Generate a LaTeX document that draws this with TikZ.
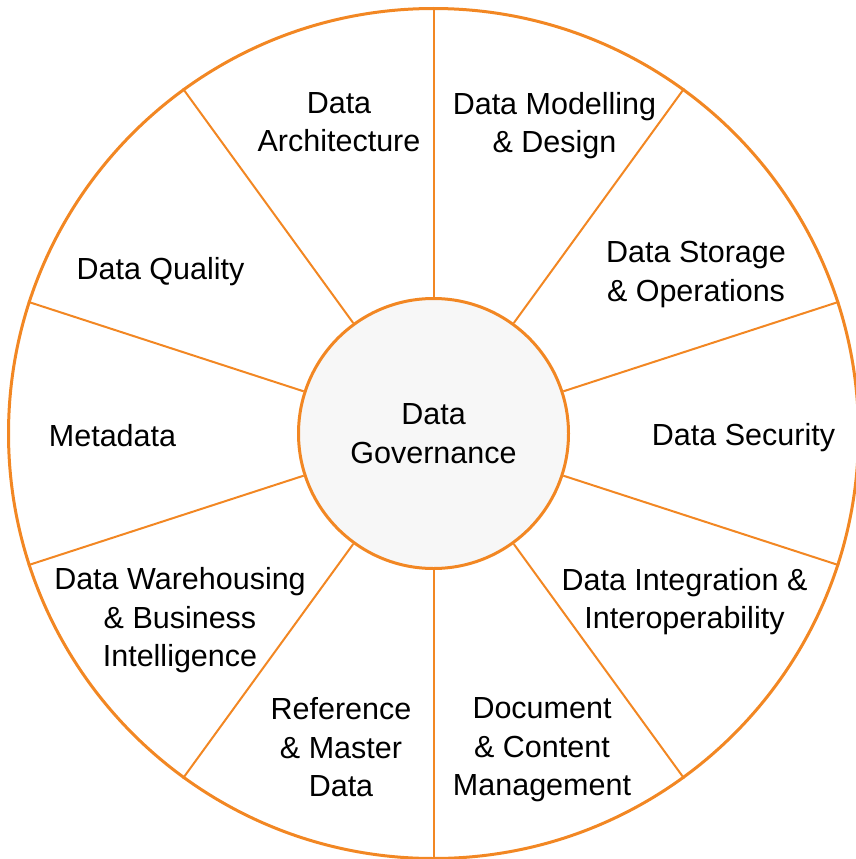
\documentclass[tikz,border=0pt]{standalone}
\usepackage{fontspec}
\setmainfont{Liberation Sans}
\definecolor{wheel}{RGB}{242,135,35}
\definecolor{hub}{RGB}{247,247,247}
\begin{document}
\begin{tikzpicture}[x=1pt,y=-1pt,
  lab/.style={font=\fontsize{30.5}{38.5}\selectfont, align=center, text=black, inner sep=0pt},
  rim/.style={circle, draw=wheel, line width=3pt, inner sep=0pt},
  spoke/.style={draw=wheel, line width=2pt}]
\useasboundingbox (0,0) rectangle (856,859);
\node[rim, minimum size=850pt] (outer) at (433.5,433.5) {};
\node[rim, fill=hub, minimum size=270pt, lab] (core) at (433.5,433.5) {Data\\Governance};
\foreach \a in {90,54,18,-18,-54,-90,-126,-162,162,126}
  \draw[spoke] (core.\a) -- (outer.\a);
\node[lab] (arch) at (339,122.3) {Data\\Architecture};
\node[lab] (model) at (554.5,125.4) {Data Modelling\\\& Design};
\node[lab] (store) at (696,274.4) {Data Storage\\\& Operations};
\node[lab] (qual) at (160.5,271.4) {Data Quality};
\node[lab] (meta) at (112.5,435.3) {Metadata};
\node[lab] (sec) at (743.5,437.4) {Data Security};
\node[lab] (ware) at (180,620.4) {Data Warehousing\\\& Business\\Intelligence};
\node[lab] (ref) at (341,747.3) {Reference\\\& Master\\Data};
\node[lab] (doc) at (542,749.9) {Document\\\& Content\\Management};
\node[lab] (integ) at (684.5,601.4) {Data Integration \&\\Interoperability};
\end{tikzpicture}
\end{document}
